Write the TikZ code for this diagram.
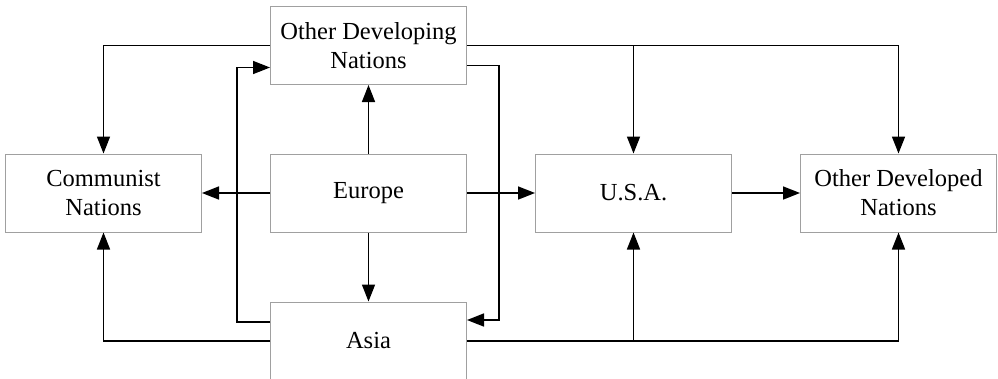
\documentclass[tikz,border=0pt]{standalone}
\usepackage{fontspec}
\setmainfont{Liberation Serif}
\usetikzlibrary{arrows.meta}
\definecolor{boxgray}{HTML}{A0A0A0}
\tikzset{
  box/.style={draw=boxgray, line width=1pt, fill=white, minimum width=196pt, minimum height=78pt,
    inner sep=0pt, align=center, font=\fontsize{24.5}{29}\selectfont},
  arr/.style={line width=1.7pt, -{Triangle[length=17pt,width=13pt]}},
}
\begin{document}
\begin{tikzpicture}[x=1pt,y=-1pt]
\useasboundingbox (0,0) rectangle (998,378);
\begin{scope}
\clip (0,0) rectangle (998,378);
\node[box] (odn) at (368.5,45.5) {Other Developing\\Nations};
\node[box] (comm) at (103.5,193) {Communist\\Nations};
\node[box] (eur) at (368.5,193) {Europe};
\node[box] (usa) at (633.5,193) {U.S.A.};
\node[box] (odev) at (898.5,193) {Other Developed\\Nations};
\node[box] (asia) at (368.5,341) {Asia};
\end{scope}
% Other Developing connections
\draw[arr] (odn.west) -| (comm.north);
\draw[arr] (odn.east) -| (usa.north);
\draw[arr] (odn.east) -| (odev.north);
\draw[arr] ([yshift=-20pt]odn.east) -- ++(32,0) |- ([yshift=21pt]asia.east);
% Europe connections
\draw[arr] (eur.north) -- (odn.south);
\draw[arr] (eur.west) -- (comm.east);
\draw[arr] (eur.east) -- (usa.west);
\draw[arr] (eur.south) -- (asia.north);
\draw[arr] (usa.east) -- (odev.west);
% Asia connections
\draw[arr] ([yshift=19pt]asia.west) -- ++(-33,0) |- ([yshift=-22pt]odn.west);
\draw[arr] (asia.west) -| (comm.south);
\draw[arr] (asia.east) -| (usa.south);
\draw[arr] (asia.east) -| (odev.south);
\end{tikzpicture}
\end{document}
